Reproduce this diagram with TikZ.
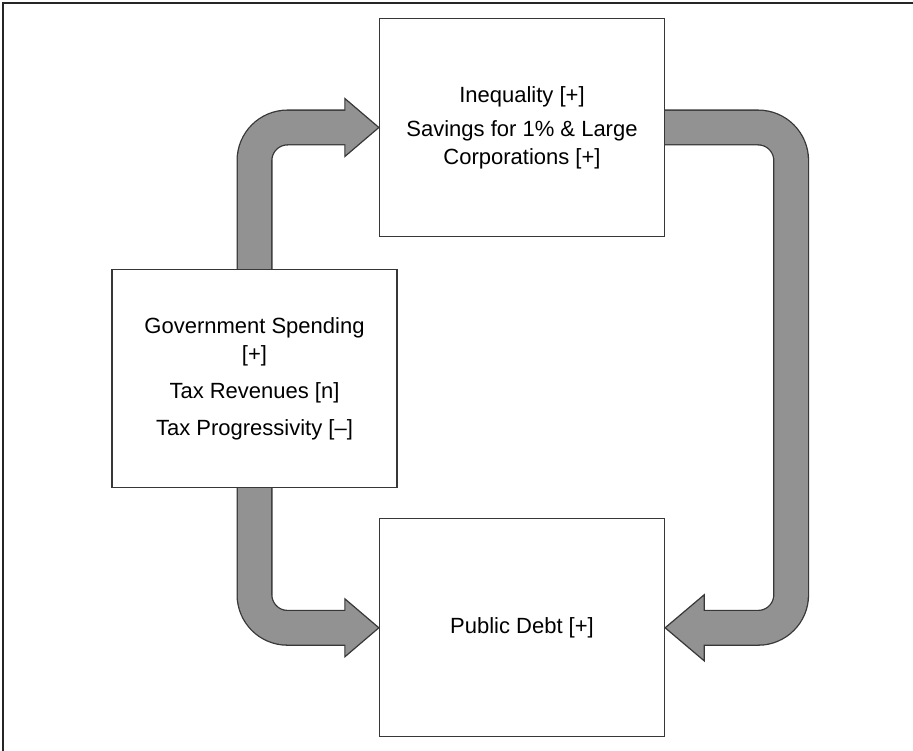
\documentclass[tikz,border=0pt]{standalone}
\usepackage{fontspec}
\setmainfont{Liberation Sans}
\usetikzlibrary{positioning,calc,backgrounds}
\definecolor{pipegray}{RGB}{146,146,146}
\definecolor{edgegray}{RGB}{55,55,55}
\tikzstyle{box}=[%
	draw=edgegray,
	line width=1.3pt,
	fill=white,
	minimum width=285pt,
	minimum height=218pt,
	align=center,
	font=\fontsize{22}{28}\selectfont,
	]
\tikzstyle{pipeout}=[draw=edgegray, line width=36pt, rounded corners=33pt]
\tikzstyle{pipein}=[draw=pipegray, line width=33.4pt, rounded corners=33pt, shorten >=-3pt]
\tikzstyle{pipehead}=[draw=edgegray, fill=pipegray, line width=1.2pt, line join=miter]
\begin{document}
\begin{tikzpicture}[x=1pt,y=-1pt]
          \useasboundingbox (0,0) rectangle (913,751);
          \draw[line width=2pt, black!85] (3,751) -- (3,3) -- (913,3);

          \node[box] (ineq) at (522,127.5) {Inequality [+]\\[6pt] Savings for 1\% \& Large\\ Corporations [+]};
          \node[box, below=281pt of ineq] (debt) {Public Debt [+]};
          \node[box] (gov) at (254.5,378.5) {Government Spending\\ {[+]}\\[9pt] Tax Revenues [n]\\[9pt] Tax Progressivity [--]};

          \coordinate (h1) at ([xshift=-34pt]ineq.west);
          \coordinate (h2) at ([xshift=-34pt]debt.west);
          \coordinate (rt) at ([xshift=126pt]ineq.east);
          \coordinate (h3) at ([xshift=39pt]debt.east);

          \begin{pgfonlayer}{background}
          \draw[pipeout] (gov.north) |- (h1);
          \draw[pipeout] (gov.south) |- (h2);
          \draw[pipeout] (ineq.east) -- (rt) |- (h3);%
          \filldraw[pipehead] ([yshift=-29pt]h1) -- (ineq.west) -- ([yshift=29pt]h1) -- cycle;
          \filldraw[pipehead] ([yshift=-29pt]h2) -- (debt.west) -- ([yshift=29pt]h2) -- cycle;
          \filldraw[pipehead] ([yshift=-33pt]h3) -- (debt.east) -- ([yshift=33pt]h3) -- cycle;
          \draw[pipein] (gov.north) |- (h1);
          \draw[pipein] (gov.south) |- (h2);
          \draw[pipein] (ineq.east) -- (rt) |- (h3);%
          \end{pgfonlayer}
        \end{tikzpicture}
\end{document}
